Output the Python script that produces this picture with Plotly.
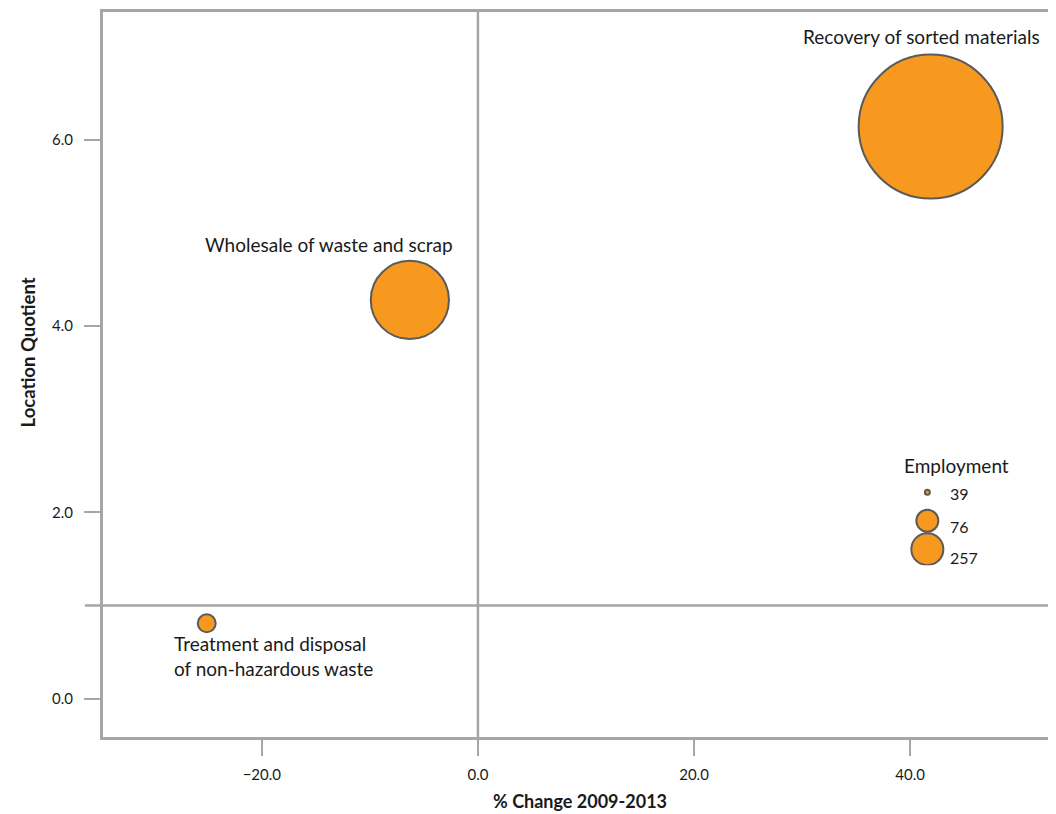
import plotly.graph_objects as go

# ---- data ----
industries = ["Recovery of sorted materials", "Wholesale of waste and scrap",
              "Treatment and disposal<br>of non-hazardous waste"]
pct_change = [41.9, -6.3, -25.1]
location_quotient = [6.14, 4.28, 0.81]
employment = [1290, 380, 20]

legend_values = [39, 76, 257]
x_ticks = [-20, 0, 20, 40]
y_ticks = [0, 2, 4, 6]
LQ_THRESHOLD = 1.0
CHANGE_THRESHOLD = 0.0

# ---- styles ----
FONT = "Lato"
TXT = "#1a1a1a"
GRAY = "#A6A6A6"
ORANGE = "#F7991F"
EDGE = "#5A5A5A"
MAX_DIAM = 144
legend_diams = [5, 22, 32]
label_offsets = [dict(xshift=-9, yshift=90, xanchor="center", align="center"),
                 dict(xshift=-81, yshift=55, xanchor="center", align="center"),
                 dict(xshift=-35, yshift=-33, xanchor="left", align="left")]

fig = go.Figure()

fig.add_trace(go.Scatter(
    x=pct_change, y=location_quotient, mode="markers",
    marker=dict(size=employment, sizemode="area",
                sizeref=2.0 * max(employment) / MAX_DIAM ** 2,
                color=ORANGE, opacity=1, line=dict(color=EDGE, width=2)),
    showlegend=False, hoverinfo="text", text=industries,
))

for name, xv, yv, off in zip(industries, pct_change, location_quotient, label_offsets):
    fig.add_annotation(x=xv, y=yv, text=name, showarrow=False,
                       font=dict(family=FONT, size=19, color=TXT),
                       yanchor="middle", **off)

# reference lines
fig.add_shape(type="line", xref="x", yref="paper", x0=CHANGE_THRESHOLD, x1=CHANGE_THRESHOLD,
              y0=0, y1=1, line=dict(color=GRAY, width=2.5), layer="below")
fig.add_shape(type="line", xref="paper", yref="y", x0=-0.019, x1=1,
              y0=LQ_THRESHOLD, y1=LQ_THRESHOLD, line=dict(color=GRAY, width=2.5), layer="below")

# size legend on its own hidden axes
rows = list(range(len(legend_values)))
fig.add_trace(go.Scatter(
    x=[0] * len(legend_values), y=rows, mode="markers",
    marker=dict(size=legend_diams, color=ORANGE, opacity=1, line=dict(color=EDGE, width=2)),
    xaxis="x2", yaxis="y2", showlegend=False, hoverinfo="skip",
))
for r, v, d in zip(rows, legend_values, legend_diams):
    fig.add_annotation(x=0.85, y=r, xref="x2", yref="y2", text=str(v), showarrow=False,
                       xanchor="left", yanchor="middle", yshift=-(d / 4),
                       font=dict(family=FONT, size=16, color=TXT))
fig.add_annotation(x=0.896, y=0.374, xref="paper", yref="paper", text="Employment",
                   showarrow=False, xanchor="center", yanchor="middle",
                   font=dict(family=FONT, size=19, color=TXT))

# axis titles
fig.add_annotation(x=-0.0782, y=0.531, xref="paper", yref="paper", text="<b>Location Quotient</b>",
                   textangle=-90, showarrow=False, xanchor="center", yanchor="middle",
                   font=dict(family=FONT, size=18.5, color=TXT))
fig.add_annotation(x=0.5005, y=-0.0885, xref="paper", yref="paper", text="<b>% Change 2009-2013</b>",
                   showarrow=False, xanchor="center", yanchor="middle",
                   font=dict(family=FONT, size=18, color=TXT))

axis_common = dict(showgrid=False, zeroline=False, showline=True, linecolor=GRAY, linewidth=3,
                   ticks="outside", ticklen=16, tickwidth=2, tickcolor=GRAY,
                   tickformat=".1f", tickfont=dict(family=FONT, size=15, color=TXT))

fig.update_layout(
    width=1048, height=806,
    margin=dict(l=95, r=0, t=4, b=77),
    paper_bgcolor="white", plot_bgcolor="white",
    xaxis=dict(range=[-34.7, 53.5], tickvals=x_ticks, mirror=True, ticklabelstandoff=6,
               **axis_common),
    yaxis=dict(range=[-0.41, 7.37], tickvals=y_ticks, ticklabelstandoff=8, **axis_common),
    xaxis2=dict(domain=[0.84, 0.89], range=[-1, 1], anchor="y2", visible=False),
    yaxis2=dict(domain=[0.237, 0.354], range=[2.56, -0.42], anchor="x2", visible=False),
    font=dict(family=FONT),
)

fig.write_html("out.html")
